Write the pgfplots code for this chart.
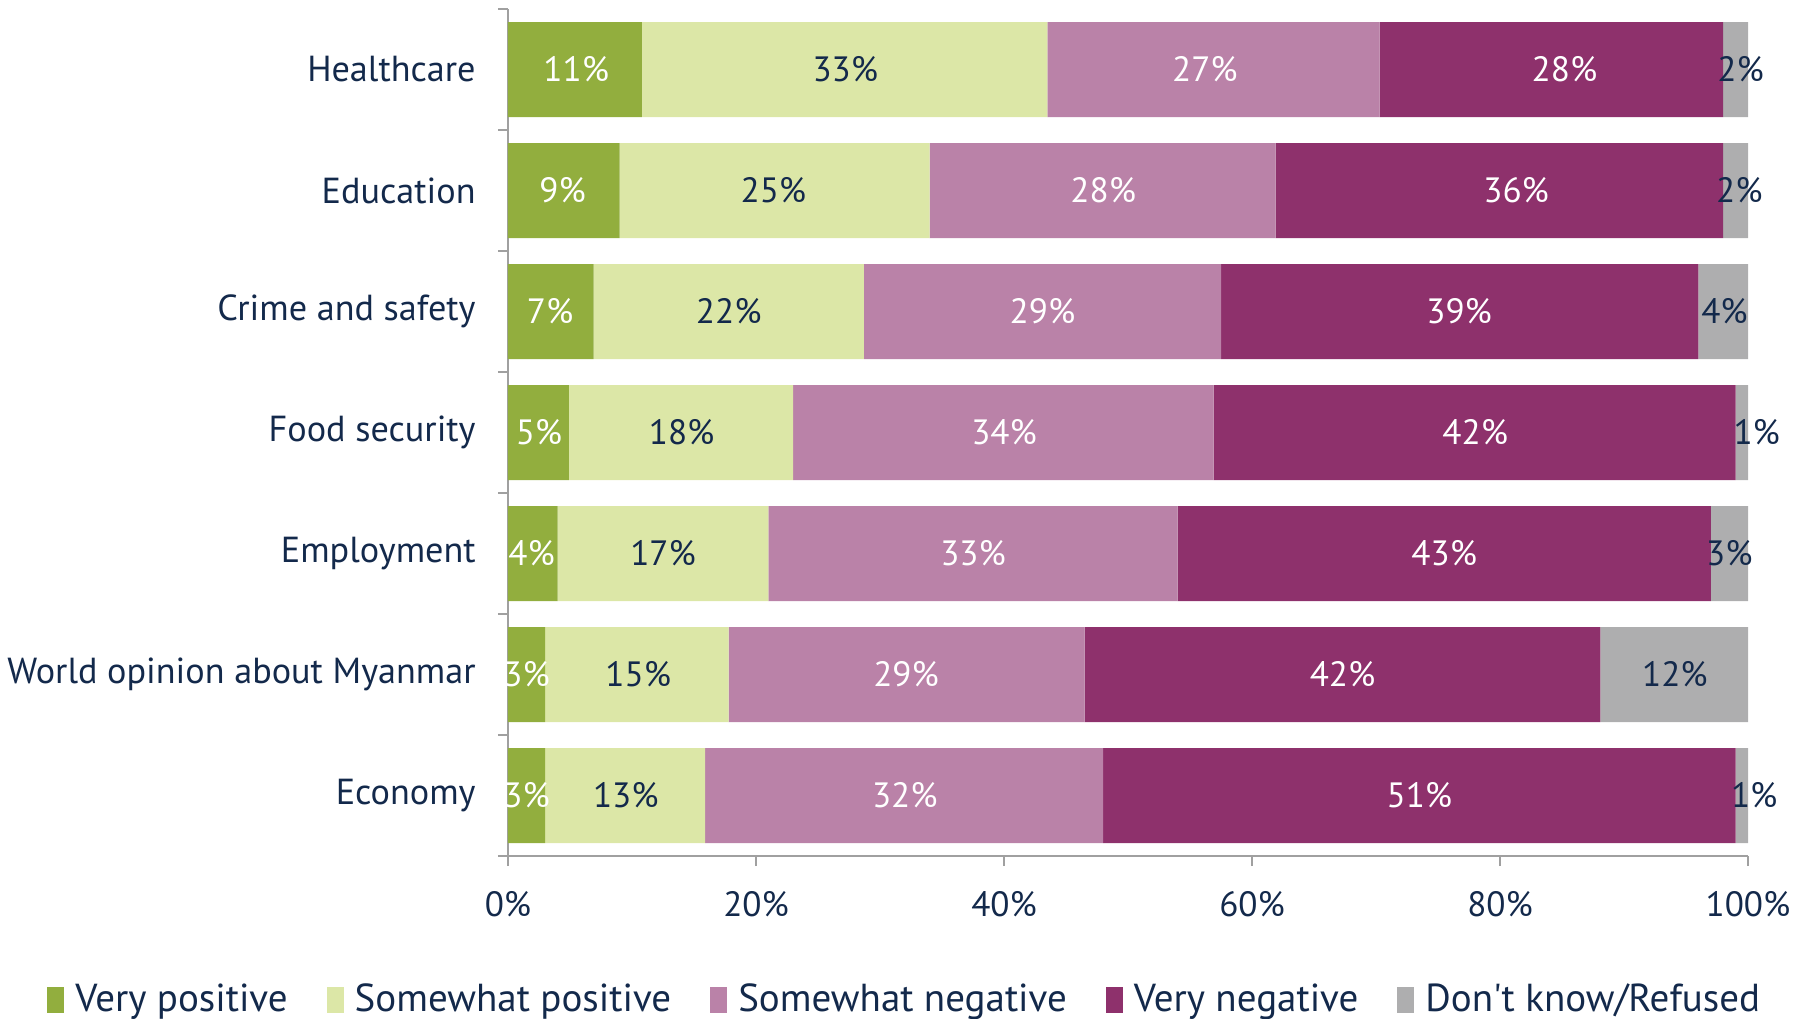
\documentclass[border=0pt]{standalone}
\usepackage{pgfplots}
\pgfplotsset{compat=1.18}
\usepackage{pgfplotstable}
\usepackage{fontspec}
\setmainfont{PT Sans}
\newfontfamily\plainfont{PT Sans}
\definecolor{vpos}{HTML}{92AE3E}
\definecolor{spos}{HTML}{DCE7A7}
\definecolor{sneg}{HTML}{BA82A8}
\definecolor{vneg}{HTML}{8E316C}
\definecolor{dk}{HTML}{AEAEAF}
\definecolor{navy}{HTML}{13294B}
\definecolor{axgray}{HTML}{A0A0A0}
\newcommand\fcat{\fontsize{10.3}{12.5}\selectfont}
\newcommand\fnum{\fontsize{10}{12}\selectfont}
\newcommand\fleg{\fontsize{11.1}{13.5}\selectfont}

% y: 6 = Healthcare ... 0 = Economy
\pgfplotstableread{
y vp sp sn vn dk
6 10.8 32.7 26.8 27.7 2.0
5 9.0 25.0 27.9 36.1 2.0
4 6.9 21.8 28.8 38.5 4.0
3 4.9 18.1 33.9 42.1 1.0
2 4.0 17.0 33.0 43.0 3.0
1 3.0 14.8 28.7 41.6 11.9
0 3.0 12.9 32.1 51.0 1.0
}\bars

% label positions (x) and texts
\pgfplotstableread{
y x lab
6 5.5 11
5 4.4 9
4 3.4 7
3 2.5 5
2 1.9 4
1 1.5 3
0 1.5 3
}\labvp
\pgfplotstableread{
y x lab
6 27.2 33
5 21.4 25
4 17.8 22
3 14.0 18
2 12.5 17
1 10.5 15
0 9.5 13
}\labsp
\pgfplotstableread{
y x lab
6 56.2 27
5 48.0 28
4 43.1 29
3 40.0 34
2 37.5 33
1 32.1 29
0 32.0 32
}\labsn
\pgfplotstableread{
y x lab
6 85.2 28
5 81.3 36
4 76.7 39
3 78.0 42
2 75.5 43
1 67.3 42
0 73.5 51
}\labvn
\pgfplotstableread{
y x lab
6 99.4 2
5 99.3 2
4 98.1 4
3 100.7 1
2 98.5 3
1 94.1 12
0 100.5 1
}\labdk

\begin{document}
\begin{tikzpicture}
\useasboundingbox (-50.8mm,-16.3mm) rectangle (129.3mm,85.6mm);
\begin{axis}[
  at={(0,0)}, anchor=south west,
  width=124mm, height=84.7mm, scale only axis,
  xbar stacked, bar width=9.5mm,
  xmin=0, xmax=100, ymin=-0.5, ymax=6.5,
  axis lines=left, axis line style={-, draw=axgray, line width=0.7pt},
  tick align=outside, major tick length=1mm,
  tick style={draw=axgray, line width=0.7pt},
  xtick={0,20,...,100},
  xticklabel={\pgfmathprintnumber{\tick}\%},
  /pgf/number format/assume math mode=true,
  ytick={-0.5,0.5,...,6.5}, yticklabels={},
  extra y ticks={0,1,2,3,4,5,6},
  extra y tick labels={Economy,World opinion about Myanmar,Employment,Food security,Crime and safety,Education,Healthcare},
  extra y tick style={major tick length=0pt},
  ticklabel style={text=navy},
  yticklabel style={xshift=-2mm, font=\fcat},
  xticklabel style={yshift=-1.3mm, font=\fnum},
  legend style={at={(0.322,-0.170)}, anchor=center, draw=none, fill=none,
    legend columns=-1, font=\fleg, text=navy,
    /tikz/every even column/.append style={column sep=3.2mm},
    /tikz/every odd column/.append style={column sep=0.4mm}},
  legend image code/.code={\draw[#1, draw=none] (0mm,-1.3mm) rectangle (1.7mm,1.3mm);},
]
\addplot[fill=vpos, draw=none] table[x=vp, y=y]{\bars};
\addplot[fill=spos, draw=none] table[x=sp, y=y]{\bars};
\addplot[fill=sneg, draw=none] table[x=sn, y=y]{\bars};
\addplot[fill=vneg, draw=none] table[x=vn, y=y]{\bars};
\addplot[fill=dk, draw=none] table[x=dk, y=y]{\bars};
\legend{Very positive, Somewhat positive, Somewhat negative, Very negative, {\plainfont Don't know/Refused}}
\end{axis}
\begin{axis}[
  at={(0,0)}, anchor=south west,
  width=124mm, height=84.7mm, scale only axis,
  xmin=0, xmax=100, ymin=-0.5, ymax=6.5,
  hide axis, clip=false,
  point meta=explicit symbolic,
  nodes near coords={\pgfplotspointmeta\%},
  every node near coord/.append style={anchor=center, font=\fnum},
]
\addplot[draw=none, mark=none, every node near coord/.append style={text=white}] table[x=x, y=y, meta=lab]{\labvp};
\addplot[draw=none, mark=none, every node near coord/.append style={text=navy}] table[x=x, y=y, meta=lab]{\labsp};
\addplot[draw=none, mark=none, every node near coord/.append style={text=white}] table[x=x, y=y, meta=lab]{\labsn};
\addplot[draw=none, mark=none, every node near coord/.append style={text=white}] table[x=x, y=y, meta=lab]{\labvn};
\addplot[draw=none, mark=none, every node near coord/.append style={text=navy}] table[x=x, y=y, meta=lab]{\labdk};
\end{axis}
\end{tikzpicture}
\end{document}
